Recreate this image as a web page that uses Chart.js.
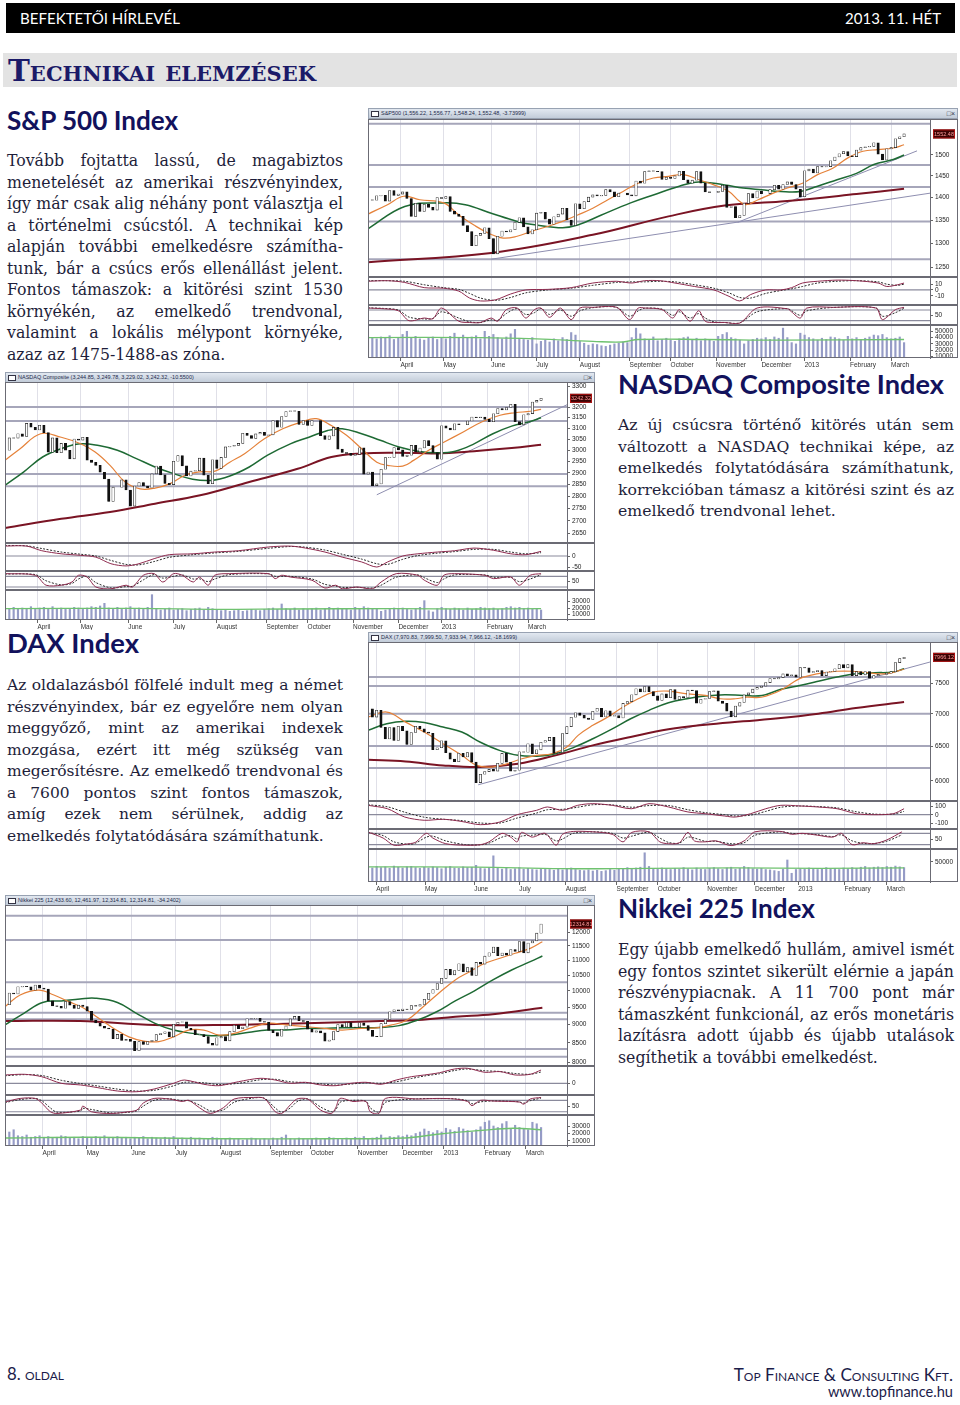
<!DOCTYPE html>
<html lang="hu">
<head>
<meta charset="utf-8">
<title>Technikai elemzések</title>
<script src="https://cdn.jsdelivr.net/npm/chart.js@4.4.1/dist/chart.umd.min.js"></script>
<style>
  html, body { margin: 0; padding: 0; background: #fff; }
  body { width: 960px; height: 1405px; position: relative; overflow: hidden; }
  .hdr { position: absolute; left: 6px; top: 3px; width: 949px; height: 30px; background: #000; }
  .hdr span { position: absolute; top: 7px; color: #fff; font-family: Lato, sans-serif; font-size: 15px; line-height: 16px; white-space: nowrap; }
  .sec { position: absolute; left: 3px; top: 53px; width: 954px; height: 34px; background: #e3e3e3; }
  .sec span { position: absolute; left: 5px; top: 4px; font-family: 'DejaVu Serif', serif; font-weight: bold; font-variant: small-caps; color: #1b1a68; font-size: 26px; line-height: 28px; white-space: nowrap; }
  .h { position: absolute; font-family: Lato, sans-serif; font-weight: 700; color: #12125c; white-space: nowrap; line-height: 1; display: inline-block; }
  .para { position: absolute; width: 336px; font-family: 'DejaVu Serif', serif; color: #1e1e3a; font-size: 15px; }
  .para div { height: 21.5px; line-height: 21.5px; text-align: justify; text-align-last: justify; overflow: visible; }
  .para div.l { text-align: left; text-align-last: left; }
  .foot { position: absolute; font-family: Lato, sans-serif; color: #1c1c4a; white-space: nowrap; line-height: 1; display: inline-block; }
  .chart { position: absolute; width: 590px; background: #fff; }
  .cbar { position: absolute; left: 0; top: 0; width: 588px; height: 9px; border: 1px solid #98a2b2; background: linear-gradient(#e2e8f0, #c2ccd9); font: 5.5px 'Liberation Sans', Arial, sans-serif; color: #1d2a4a; line-height: 9px; white-space: nowrap; overflow: hidden; }
  .cbar i { display: inline-block; width: 6px; height: 4px; border: 1px solid #334; margin: 0 2px 0 2px; vertical-align: middle; background: #fff; }
  .cbar b { position: absolute; right: 2px; top: 0; font-weight: normal; font-size: 7px; color: #334; }
  canvas { position: absolute; left: 0; }
</style>
</head>
<body>

<div class="hdr">
  <span id="hl" style="left:14px">BEFEKTETŐI HÍRLEVÉL</span>
  <span id="hr" style="right:14px">2013. 11. HÉT</span>
</div>
<div class="sec"><span id="sectitle">Technikai elemzések</span></div>

<div class="h" id="h1" style="left:7px;top:107px">S&amp;P 500 Index</div>
<div class="para" id="p1" style="left:7px;top:150px">
  <div>Tovább fojtatta lassú, de magabiztos</div>
  <div>menetelését az amerikai részvényindex,</div>
  <div>így már csak alig néhány pont választja el</div>
  <div>a történelmi csúcstól. A technikai kép</div>
  <div>alapján további emelkedésre számítha-</div>
  <div>tunk, bár a csúcs erős ellenállást jelent.</div>
  <div>Fontos támaszok: a kitörési szint 1530</div>
  <div>környékén, az emelkedő trendvonal,</div>
  <div>valamint a lokális mélypont környéke,</div>
  <div class="l">azaz az 1475-1488-as zóna.</div>
</div>

<div class="h" id="h2" style="left:618px;top:370px">NASDAQ Composite Index</div>
<div class="para" id="p2" style="left:618px;top:414px">
  <div>Az új csúcsra történő kitörés után sem</div>
  <div>változott a NASDAQ technikai képe, az</div>
  <div>emelkedés folytatódására számíthatunk,</div>
  <div>korrekcióban támasz a kitörési szint és az</div>
  <div class="l">emelkedő trendvonal lehet.</div>
</div>

<div class="h" id="h3" style="left:7px;top:629px">DAX Index</div>
<div class="para" id="p3" style="left:7px;top:675px">
  <div>Az oldalazásból fölfelé indult meg a német</div>
  <div>részvényindex, bár ez egyelőre nem olyan</div>
  <div>meggyőző, mint az amerikai indexek</div>
  <div>mozgása, ezért itt még szükség van</div>
  <div>megerősítésre. Az emelkedő trendvonal és</div>
  <div>a 7600 pontos szint fontos támaszok,</div>
  <div>amíg ezek nem sérülnek, addig az</div>
  <div class="l">emelkedés folytatódására számíthatunk.</div>
</div>

<div class="h" id="h4" style="left:618px;top:895px">Nikkei 225 Index</div>
<div class="para" id="p4" style="left:618px;top:939px">
  <div>Egy újabb emelkedő hullám, amivel ismét</div>
  <div>egy fontos szintet sikerült elérnie a japán</div>
  <div>részvénypiacnak. A 11&nbsp;700 pont már</div>
  <div>támaszként funkcionál, az erős monetáris</div>
  <div>lazításra adott újabb és újabb utalások</div>
  <div class="l">segíthetik a további emelkedést.</div>
</div>

<div class="chart" id="spxBox" style="left:368px;top:108px;height:262px">
  <div class="cbar"><i></i>S&amp;P500 (1,556.22, 1,556.77, 1,548.24, 1,552.48, -3.73999)<b>&#9633;&#215;</b></div>
</div>
<div class="chart" id="ndxBox" style="left:5px;top:372px;height:258px">
  <div class="cbar"><i></i>NASDAQ Composite (3,244.85, 3,249.78, 3,229.02, 3,242.32, -10.5500)<b>&#9633;&#215;</b></div>
</div>
<div class="chart" id="daxBox" style="left:368px;top:632px;height:262px">
  <div class="cbar"><i></i>DAX (7,970.83, 7,999.50, 7,933.94, 7,966.12, -18.1699)<b>&#9633;&#215;</b></div>
</div>
<div class="chart" id="nkyBox" style="left:5px;top:895px;height:262px">
  <div class="cbar"><i></i>Nikkei 225 (12,433.60, 12,461.97, 12,314.81, 12,314.81, -34.2402)<b>&#9633;&#215;</b></div>
</div>

<div class="foot" id="f1" style="left:7px;top:1366px;font-size:14px">8. <span style="font-variant:small-caps">oldal</span></div>
<div class="foot" id="f2" style="right:7px;top:1366px;font-size:14px;font-variant:small-caps">Top Finance &amp; Consulting Kft.</div>
<div class="foot" id="f3" style="right:7px;top:1385px;font-size:14px">www.topfinance.hu</div>

<script>
// ---- shared axis data ----
const monthLabels = ['April', 'May', 'June', 'July', 'August', 'September', 'October', 'November', 'December', '2013', 'February', 'March'];
const candleStep = 2; // candle i sits at trading day i * 2

// ---- S&P 500 ----
const spxMonths = [15, 35, 57, 78, 98, 121, 140, 161, 182, 202, 223, 242];
const spxClose = [1395, 1394, 1404, 1405, 1392, 1416, 1405, 1408,
  1413, 1398, 1358, 1387, 1369, 1385, 1378, 1372, 1400, 1398,
  1402, 1369, 1363, 1358, 1338, 1325, 1295, 1317, 1321, 1333, 1310,
  1278, 1315, 1326, 1324, 1329, 1345, 1355, 1335, 1320, 1329,
  1365, 1367, 1352, 1341, 1357, 1363, 1376, 1350, 1338, 1386,
  1375, 1391, 1401, 1406, 1404, 1405, 1418, 1413, 1402, 1410, 1410, 1406,
  1404, 1438, 1433, 1460, 1462, 1461, 1460, 1442, 1447,
  1444, 1450, 1461, 1441, 1433, 1440, 1460, 1433, 1413, 1412, 1412,
  1414, 1428, 1378, 1380, 1355, 1360, 1387, 1409, 1399, 1415,
  1409, 1409, 1418, 1428, 1419, 1430, 1436, 1430, 1419, 1402,
  1462, 1466, 1457, 1472, 1471, 1472, 1486, 1495, 1503, 1508, 1498,
  1496, 1512, 1518, 1520, 1521, 1530, 1502, 1488, 1515,
  1518, 1540, 1545, 1552];
const spxMaFast = [[0, 1363], [9, 1384], [16.5, 1403], [24, 1395], [35, 1388], [42, 1361], [49, 1339], [56, 1321], [62.5, 1311], [69, 1315], [76, 1326], [83, 1336], [90, 1347], [97, 1361], [104, 1376], [111, 1395], [118, 1414], [125, 1433], [132, 1445], [139, 1449], [146, 1453], [153, 1441], [160, 1429], [167, 1414], [172, 1391], [175, 1384], [180.5, 1395], [187.5, 1410], [194, 1422], [201, 1433], [208, 1453], [215, 1468], [222, 1493], [229, 1509], [236, 1513], [243, 1517], [248, 1525]];
const spxMaMid = [[0, 1331], [17, 1380], [35, 1388], [45, 1384], [57, 1365], [69, 1347], [78, 1339], [90, 1333], [97, 1339], [108, 1361], [121.5, 1388], [132, 1406], [144, 1426], [153, 1436], [165, 1429], [173.6, 1422], [182, 1418], [191, 1414], [200, 1414], [208, 1426], [217, 1441], [226, 1456], [234, 1477], [243, 1489], [248, 1500]];
const spxMaSlow = [[0, 1261], [57, 1280], [104, 1318], [139, 1358], [165, 1382], [191, 1391], [226, 1408], [248, 1420]];
const spxLevels = [1578, 1476, 1424, 1347, 1267];
const spxTrends = [[[57, 1267], [260, 1410]], [[171, 1345], [254, 1510]]];
const spxTicks = [1250, 1300, 1350, 1400, 1450, 1500];
const spxMacd = [[0, 15], [9, 16], [17, 13], [26, 4], [35, 3], [42, -2], [47, -14], [52, -19], [59, -17], [66, -7], [73, 0], [83, 1], [94, 4], [104, 12], [115, 15], [122, 12], [128, 16], [135, 16], [142, 12], [151, 6], [160, 0], [167, -11], [172, -19], [177, -8], [184, 0], [191, 0], [196, 4], [201, 12], [208, 15], [217, 17], [226, 16], [236, 12], [240, 6], [245, 9], [248, 12]];
const spxMacdSig = [[0, 16], [9, 16], [17, 15], [26, 9], [35, 4], [42, 1], [47, -6], [52, -14], [59, -18], [66, -13], [73, -5], [83, 0], [94, 3], [104, 8], [115, 13], [122, 14], [128, 14], [135, 15], [142, 14], [151, 9], [160, 3], [167, -5], [172, -13], [177, -14], [184, -6], [191, -1], [196, 2], [201, 6], [208, 12], [217, 15], [226, 16], [236, 14], [240, 10], [245, 8], [248, 10]];
const spxStoch = [[0, 91], [7, 87], [14, 76], [19, 20], [26, 35], [30, 31], [34, 91], [42, 17], [47, 10], [52, 10], [57, 35], [60, 17], [64, 82], [69, 91], [73, 35], [77, 82], [80, 91], [84, 39], [89, 91], [94, 26], [98, 91], [104, 95], [115, 95], [121, 26], [125, 91], [128, 91], [136, 82], [141, 35], [144, 82], [149, 17], [153, 76], [156, 17], [160, 10], [165, 10], [172, 7], [180, 91], [194, 87], [196, 69], [200, 35], [203, 91], [215, 95], [235, 91], [238, 26], [244, 82], [248, 95]];
const spxStochSig = [[0, 92], [7, 89], [14, 80], [19, 40], [26, 30], [30, 33], [34, 70], [42, 35], [47, 14], [52, 10], [57, 25], [60, 22], [64, 60], [69, 88], [73, 55], [77, 65], [80, 88], [84, 55], [89, 80], [94, 45], [98, 75], [104, 93], [115, 95], [121, 45], [125, 75], [128, 90], [136, 85], [141, 50], [144, 70], [149, 35], [153, 60], [156, 35], [160, 14], [165, 10], [172, 8], [180, 70], [194, 88], [196, 76], [200, 50], [203, 75], [215, 94], [235, 92], [238, 45], [244, 65], [248, 90]];
const spxVol = [42, 40, 38, 41, 39, 43, 37, 40,
  45, 50, 40, 42, 38, 36, 39, 41, 37, 40,
  38, 42, 47, 40, 44, 39, 41, 43, 38, 50, 42,
  45, 40, 38, 41, 46, 53, 39, 37, 36, 40,
  30, 34, 36, 33, 38, 35, 40, 37, 48, 44,
  34, 31, 28, 30, 29, 27, 26, 28, 30, 31, 33, 32,
  40, 55, 46, 38, 36, 41, 35, 37, 39,
  36, 34, 38, 40, 41, 37, 39, 35, 38, 36, 34,
  42, 45, 48, 40, 38, 36, 30, 35, 37, 39,
  38, 40, 37, 41, 39, 55, 40, 32, 30, 47,
  44, 40, 38, 36, 39, 37, 41, 40, 38, 36, 42,
  38, 40, 37, 39, 41, 44, 43, 45, 40,
  38, 39, 41, 32];
const spxVolMa = [[0, 40], [52, 40], [78, 38], [104, 34], [118, 33], [125, 37], [156, 37], [191, 36], [248, 37]];

// ---- NASDAQ Composite ----
const ndxMonths = [15, 35, 57, 78, 98, 121, 140, 161, 182, 202, 223, 242];
const ndxClose = [3000, 3056, 3055, 3075, 3063, 3123, 3105, 3092,
  3114, 3080, 2991, 3056, 2989, 3031, 3000, 2962, 3051, 3046,
  3059, 2956, 2946, 2933, 2903, 2874, 2779, 2839, 2839, 2870, 2827,
  2760, 2844, 2859, 2844, 2836, 2896, 2930, 2892, 2855, 2850,
  2951, 2976, 2931, 2887, 2908, 2910, 2965, 2890, 2854, 2958,
  2920, 2968, 3015, 3018, 3022, 3031, 3077, 3067, 3054, 3074, 3081, 3067,
  3070, 3136, 3105, 3155, 3179, 3182, 3180, 3118, 3136,
  3113, 3136, 3136, 3066, 3049, 3065, 3104, 3005, 2990, 2986, 2977,
  2982, 3011, 2895, 2904, 2846, 2853, 2916, 2967, 2968, 3012,
  3002, 2973, 2978, 3022, 2993, 3010, 3044, 3021, 2990, 2960,
  3112, 3101, 3092, 3121, 3117, 3117, 3134, 3153, 3150, 3153, 3142,
  3131, 3168, 3193, 3186, 3198, 3213, 3131, 3116, 3163,
  3169, 3224, 3232, 3242];
const ndxMaFast = [[0, 2955], [7, 3007], [16.5, 3075], [26, 3059], [35, 3029], [41.7, 2992], [48.6, 2933], [55.6, 2861], [62.5, 2832], [69.4, 2835], [76.4, 2854], [83.3, 2890], [90.3, 2905], [97.2, 2908], [104, 2947], [111, 2986], [120, 3052], [128.5, 3098], [137, 3129], [144, 3145], [151, 3113], [158, 3068], [165, 3007], [172, 2947], [177, 2933], [184, 2930], [189, 2955], [196, 3000], [203, 3036], [212, 3083], [220.5, 3129], [229, 3161], [236, 3173], [243, 3180], [248, 3189]];
const ndxMaMid = [[0, 2847], [8.7, 2905], [17.4, 2970], [26, 3007], [34.7, 3029], [43.4, 3021], [52, 3000], [60.8, 2963], [69.4, 2926], [78, 2897], [86.8, 2873], [95.5, 2868], [104, 2887], [113, 2926], [121.5, 2978], [132, 3029], [140.6, 3059], [149.3, 3090], [156, 3098], [165, 3075], [173.6, 3045], [182.3, 3015], [191, 2996], [199.7, 2989], [208.3, 2996], [217, 3029], [225.7, 3075], [234.4, 3110], [243, 3132], [248, 3149]];
const ndxMaSlow = [[0, 2671], [26, 2708], [48.6, 2736], [69.4, 2770], [90.3, 2805], [113, 2861], [135.4, 2918], [151, 2970], [165, 2986], [182.3, 2989], [199.7, 2986], [217, 2996], [234.4, 3010], [248, 3025]];
const ndxLevels = [3200, 3134, 2895, 2843];
const ndxTrends = [[[172, 2807], [260, 3211]]];
const ndxTicks = [2650, 2700, 2750, 2800, 2850, 2900, 2950, 3000, 3050, 3100, 3150, 3200, 3300];
const ndxMacd = [[0, 45], [10, 45], [17, 24], [26, 10], [35, 3], [42, -5], [49, -35], [56, -45], [62, -35], [69, -12], [76, 6], [87, 10], [97, 18], [108, 24], [122, 41], [132, 45], [139, 36], [148, 18], [156, -5], [165, -27], [172, -50], [177, -27], [184, 0], [191, 10], [200, 18], [208, 24], [217, 36], [226, 26], [234, 10], [241, 6], [248, 21]];
const ndxMacdSig = [[0, 48], [10, 46], [17, 34], [26, 18], [35, 8], [42, 0], [49, -20], [56, -38], [62, -40], [69, -25], [76, -6], [87, 6], [97, 14], [108, 21], [122, 35], [132, 43], [139, 40], [148, 27], [156, 8], [165, -14], [172, -35], [177, -38], [184, -15], [191, 2], [200, 13], [208, 20], [217, 30], [226, 30], [234, 18], [241, 10], [248, 15]];
const ndxStoch = [[0, 95], [14, 86], [19, 30], [26, 30], [31, 48], [34, 86], [38, 76], [42, 20], [49, 10], [56, 30], [59, 20], [64, 86], [69, 95], [73, 48], [78, 95], [82, 86], [87, 48], [90, 76], [94, 30], [97, 86], [104, 95], [122, 95], [125, 67], [128, 86], [132, 76], [142, 58], [148, 14], [153, 30], [156, 10], [163, 20], [170, 10], [174, 48], [181, 95], [191, 86], [194, 58], [200, 30], [203, 86], [208, 95], [222, 86], [226, 67], [234, 76], [238, 30], [243, 86], [248, 95]];
const ndxStochSig = [[0, 93], [14, 90], [19, 55], [26, 32], [31, 40], [34, 65], [38, 80], [42, 45], [49, 15], [56, 22], [59, 24], [64, 60], [69, 90], [73, 70], [78, 80], [82, 88], [87, 65], [90, 66], [94, 50], [97, 65], [104, 90], [122, 94], [125, 80], [128, 80], [132, 80], [142, 65], [148, 35], [153, 25], [156, 18], [163, 18], [170, 14], [174, 30], [181, 75], [191, 88], [194, 72], [200, 45], [203, 65], [208, 88], [222, 88], [226, 75], [234, 74], [238, 50], [243, 65], [248, 90]];
const ndxVol = [20, 19, 21, 18, 20, 19, 22, 18,
  20, 21, 19, 22, 18, 20, 19, 18, 21, 20,
  19, 20, 22, 21, 23, 27, 20, 19, 21, 18, 20,
  22, 19, 20, 18, 21, 40, 19, 17, 18, 20,
  17, 18, 19, 16, 18, 19, 20, 17, 21, 19,
  17, 16, 18, 15, 16, 17, 15, 16, 18, 17, 16, 18,
  19, 20, 18, 26, 19, 18, 20, 17, 19,
  18, 19, 20, 17, 19, 21, 18, 20, 19, 18, 17,
  21, 19, 22, 20, 18, 19, 15, 17, 18, 20,
  19, 20, 18, 17, 19, 21, 31, 16, 14, 19,
  21, 19, 18, 20, 19, 17, 20, 18, 19, 21, 20,
  19, 20, 18, 19, 21, 22, 20, 21, 19,
  20, 18, 19, 17];
const ndxVolMa = [[0, 19], [60, 19.5], [100, 18], [130, 18.5], [180, 19], [220, 18.5], [248, 19]];

// ---- DAX ----
const daxMonths = [3.8, 26.4, 49.1, 70, 91.5, 115, 134, 157, 179, 199, 220.5, 240];
const daxClose = [7078, 6947,
  7056, 6784, 6606, 6783, 6583, 6801, 6732, 6523, 6705, 6801, 6761, 6710,
  6694, 6445, 6475, 6579, 6401, 6308, 6272, 6393, 6340, 6402, 6264,
  5978, 6093, 6131, 6162, 6138, 6248, 6392, 6263, 6136, 6150, 6416,
  6409, 6535, 6387, 6444, 6557, 6582, 6630, 6390, 6405, 6689,
  6796, 6944, 7015, 6974, 6929, 6909, 7040, 7089, 6949, 7047, 6960, 6970,
  6933, 7167, 7197, 7310, 7412, 7357, 7451, 7364, 7293, 7216,
  7326, 7261, 7397, 7234, 7281, 7262, 7389, 7380, 7170, 7237, 7249,
  7364, 7377, 7205, 7168, 7043, 6950, 7124, 7182, 7309, 7343, 7405,
  7435, 7457, 7518, 7589, 7581, 7605, 7669, 7636, 7655, 7612,
  7779, 7776, 7695, 7708, 7729, 7639, 7702, 7712, 7760, 7833, 7776,
  7833, 7639, 7708, 7652, 7711, 7593, 7638, 7661, 7661, 7680,
  7708, 7871, 7942, 7966];
const daxMaFast = [[0, 6947], [8.7, 7027], [17.4, 6867], [26, 6712], [34.7, 6535], [43.4, 6363], [50.3, 6218], [57.3, 6195], [64.2, 6241], [71.2, 6314], [78, 6363], [85, 6386], [92, 6485], [97.2, 6661], [104, 6816], [111, 6947], [118, 7108], [125, 7245], [132, 7356], [139, 7372], [147.6, 7325], [156, 7300], [163, 7245], [170, 7245], [175, 7270], [182, 7270], [191, 7387], [199.7, 7586], [208.3, 7673], [217, 7716], [224, 7716], [231, 7690], [239.6, 7673], [248, 7751]];
const daxMaMid = [[0, 6738], [8.7, 6841], [17.4, 6880], [26, 6860], [34.7, 6790], [43.4, 6712], [52, 6557], [60.8, 6436], [69.4, 6363], [78, 6350], [86.8, 6386], [95.5, 6485], [104, 6610], [113, 6762], [121.5, 6920], [130, 7055], [139, 7179], [147.6, 7245], [156, 7290], [165, 7312], [173.6, 7300], [182.3, 7300], [191, 7403], [199.7, 7469], [208.3, 7540], [217, 7615], [225.7, 7673], [234.4, 7690], [243, 7702], [248, 7761]];
const daxMaSlow = [[0, 6300], [17.4, 6275], [34.7, 6218], [52, 6195], [69.4, 6241], [86.8, 6363], [104, 6510], [121.5, 6637], [139, 6754], [156, 6826], [173.6, 6879], [191, 6931], [208.3, 7000], [225.7, 7092], [248, 7190]];
const daxLevels = [7615, 7460, 7000, 6500, 6180];
const daxTrends = [[[51, 5948], [260, 7881]]];
const daxTicks = [6000, 6500, 7000, 7500];
const daxMacd = [[0, 113], [9, 72], [17, -28], [26, -67], [35, -55], [43, -80], [52, -120], [61, -88], [69, 0], [78, 53], [83, 93], [90, 53], [97, 113], [104, 133], [113, 113], [122, 72], [130, 133], [139, 93], [148, 33], [156, 12], [165, -16], [170, -28], [177, 12], [184, 72], [191, 113], [200, 105], [208, 93], [217, 72], [226, 12], [234, 0], [243, 12], [248, 72]];
const daxMacdSig = [[0, 120], [9, 95], [17, 30], [26, -30], [35, -55], [43, -70], [52, -100], [61, -100], [69, -40], [78, 20], [83, 60], [90, 65], [97, 90], [104, 120], [113, 118], [122, 90], [130, 110], [139, 110], [148, 60], [156, 25], [165, 0], [170, -15], [177, -5], [184, 40], [191, 90], [200, 105], [208, 98], [217, 82], [226, 35], [234, 8], [243, 8], [248, 40]];
const daxStoch = [[0, 87], [7, 55], [12, 17], [19, 25], [22, 33], [27, 80], [30, 55], [36, 25], [45, 17], [52, 20], [56, 35], [62, 80], [66, 60], [69, 35], [71, 85], [76, 60], [82, 80], [87, 17], [90, 75], [95, 90], [104, 88], [113, 75], [118, 35], [122, 85], [130, 88], [135, 35], [139, 25], [144, 30], [148, 85], [151, 40], [156, 35], [161, 40], [168, 15], [174, 40], [179, 88], [191, 90], [196, 75], [201, 80], [208, 70], [215, 60], [219, 80], [224, 20], [229, 30], [234, 25], [240, 45], [247, 88]];
const daxStochSig = [[0, 85], [7, 68], [12, 35], [19, 22], [22, 28], [27, 60], [30, 65], [36, 40], [45, 20], [52, 19], [56, 28], [62, 60], [66, 68], [69, 50], [71, 65], [76, 70], [82, 74], [87, 40], [90, 50], [95, 80], [104, 88], [113, 80], [118, 55], [122, 65], [130, 86], [135, 55], [139, 32], [144, 28], [148, 60], [151, 55], [156, 38], [161, 38], [168, 25], [174, 30], [179, 70], [191, 88], [196, 80], [201, 78], [208, 73], [215, 63], [219, 72], [224, 40], [229, 27], [234, 26], [240, 38], [247, 72]];
const daxVol = [36, 34, 38, 35, 37, 33, 39, 36, 34, 37,
  38, 35, 33, 36, 34, 37, 35, 32, 36, 38,
  34, 33, 37, 35, 36, 41, 34, 32, 35, 66,
  33, 31, 34, 30, 32, 35, 31, 33, 30, 29,
  31, 33, 30, 28, 32, 29, 31, 34, 30, 28,
  27, 29, 26, 28, 25, 27, 30, 28, 31, 33,
  35, 32, 34, 36, 74, 38, 33, 31, 34, 32,
  30, 33, 31, 35, 32, 29, 34, 31, 30, 33,
  35, 32, 30, 34, 36, 31, 33, 38, 35, 32,
  31, 33, 30, 29, 27, 25, 31, 55, 20, 30,
  32, 31, 34, 33, 30, 32, 35, 31, 33, 30,
  34, 32, 35, 33, 36, 38, 34, 36, 37, 35,
  38, 36, 39, 37, 35];
const daxVolMa = [[0, 37], [50, 36], [90, 32], [130, 33], [170, 34], [210, 33], [248, 34]];

// ---- Nikkei 225 ----
const nkyMonths = [17.4, 37.8, 58.5, 79, 99.8, 123, 141.5, 163.2, 184, 203, 222, 241];
const nkyClose = [9576, 9929, 9899, 10123, 10141, 10127, 10018, 10182, 10083,
  10050, 9688, 9538, 9524, 9471, 9667, 9561, 9466, 9561, 9520,
  9380, 9119, 9045, 8953, 8900, 8876, 8611, 8729, 8563, 8593, 8542,
  8295, 8533, 8459, 8536, 8568, 8722, 8752, 8798, 8663, 9006,
  9066, 9079, 8896, 8851, 8724, 8726, 8669, 8488, 8443, 8635,
  8666, 8555, 8803, 8978, 8885, 8929, 9162, 9157, 9178, 9085, 9070, 8840,
  8775, 8680, 8869, 8959, 9160, 9232, 9110, 9091, 8870,
  8786, 8824, 8769, 8546, 8577, 8806, 9002, 8932, 9055, 8929, 8928,
  9051, 8974, 8837, 8676, 8664, 9024, 9142, 9366, 9423, 9400, 9446,
  9433, 9545, 9533, 9581, 9737, 9923, 10039, 10230, 10395,
  10688, 10508, 10652, 10879, 10609, 10747, 10487, 10926, 10866, 11138,
  11260, 11463, 11153, 11251, 11173, 11372, 11309, 11662, 11254,
  11606, 11683, 11968, 12315];
const nkyMaFast = [[0, 9516], [7, 9869], [15.6, 10020], [22.6, 9869], [29.5, 9666], [36.5, 9470], [43.4, 9176], [50.3, 8892], [57.3, 8662], [64.2, 8549], [71.2, 8535], [78, 8662], [85, 8847], [92, 8847], [99, 8710], [106, 8756], [113, 8892], [121.5, 9034], [130, 8990], [139, 8946], [147.6, 8892], [156, 8847], [165, 8892], [172, 8910], [179, 8990], [186, 9127], [192.7, 9470], [199.7, 9869], [208.3, 10344], [215, 10611], [222, 10894], [229, 11066], [236, 11240], [243, 11415], [248.6, 11653]];
const nkyMaMid = [[0, 8990], [8.7, 9322], [17.4, 9643], [26, 9688], [34.7, 9746], [41.7, 9770], [52, 9643], [60.8, 9322], [69.4, 9034], [78, 8847], [86.8, 8756], [95.5, 8692], [104, 8710], [113, 8788], [121.5, 8847], [130, 8847], [139, 8892], [147.6, 8892], [156, 8910], [165, 8910], [173.6, 8920], [182.3, 8970], [191, 9127], [199.7, 9367], [208.3, 9688], [217, 9991], [225.7, 10344], [234.4, 10670], [243, 10949], [248.6, 11146]];
const nkyMaSlow = [[0, 9101], [34.7, 9101], [69.4, 8990], [104, 8990], [139, 9034], [173.6, 9101], [191, 9127], [208.3, 9222], [225.7, 9292], [248.6, 9485]];
const nkyLevels = [12640, 11715, 10267, 9338, 9148, 8339, 8141];
const nkyTrends = [];
const nkyTicks = [8000, 8500, 9000, 9500, 10000, 10500, 11000, 11500, 12000];
const nkyMacd = [[0, 331], [9, 359], [17, 263], [26, 0], [35, -67], [43, -175], [52, -307], [61, -335], [69, -227], [78, 0], [83, 131], [92, -40], [99, -95], [108, 64], [118, 199], [125, 131], [132, 0], [139, 40], [146, -67], [153, -95], [160, 0], [167, 40], [174, -40], [181, 131], [188, 263], [194, 331], [201, 422], [208, 570], [214, 598], [222, 438], [229, 466], [236, 331], [243, 359], [248, 529]];
const nkyMacdSig = [[0, 300], [9, 345], [17, 310], [26, 120], [35, -10], [43, -110], [52, -230], [61, -310], [69, -280], [78, -100], [83, 40], [92, 20], [99, -50], [108, 0], [118, 140], [125, 160], [132, 60], [139, 30], [146, -20], [153, -70], [160, -30], [167, 20], [174, 0], [181, 60], [188, 190], [194, 290], [201, 380], [208, 510], [214, 570], [222, 500], [229, 470], [236, 390], [243, 360], [248, 450]];
const nkyStoch = [[0, 71], [7, 90], [14, 90], [17, 66], [21, 20], [24, 11], [35, 29], [36, 50], [40, 20], [49, 11], [57, 20], [61, 29], [64, 66], [69, 90], [76, 87], [82, 74], [85, 80], [90, 41], [95, 11], [101, 41], [106, 87], [115, 95], [120, 90], [125, 20], [128, 11], [132, 56], [135, 87], [139, 90], [141, 80], [146, 29], [151, 11], [153, 41], [155, 90], [161, 74], [167, 74], [169, 20], [173, 11], [176, 90], [191, 87], [200, 90], [208, 87], [214, 74], [216, 52], [220, 80], [226, 76], [233, 74], [238, 71], [240, 60], [243, 87], [248, 95]];
const nkyStochSig = [[0, 68], [7, 84], [14, 90], [17, 78], [21, 40], [24, 18], [35, 24], [36, 38], [40, 32], [49, 14], [57, 17], [61, 25], [64, 50], [69, 80], [76, 88], [82, 78], [85, 78], [90, 55], [95, 25], [101, 30], [106, 70], [115, 92], [120, 91], [125, 40], [128, 18], [132, 40], [135, 72], [139, 88], [141, 84], [146, 45], [151, 20], [153, 30], [155, 70], [161, 80], [167, 75], [169, 40], [173, 18], [176, 70], [191, 88], [200, 89], [208, 88], [214, 78], [216, 62], [220, 72], [226, 77], [233, 75], [238, 72], [240, 65], [243, 78], [248, 92]];
const nkyVol = [18, 22, 25, 17, 16, 18, 15, 16, 17, 15,
  16, 14, 15, 17, 16, 14, 15, 13, 16, 15,
  14, 16, 15, 17, 14, 15, 16, 14, 15, 13,
  15, 14, 16, 13, 15, 14, 13, 15, 14, 16,
  13, 14, 12, 15, 13, 14, 12, 13, 15, 14,
  12, 13, 14, 12, 13, 11, 12, 14, 13, 12,
  13, 12, 14, 13, 15, 18, 13, 12, 14, 13,
  12, 13, 14, 12, 13, 15, 14, 13, 12, 14,
  13, 15, 14, 16, 13, 14, 15, 18, 14, 16,
  15, 17, 16, 18, 17, 20, 22, 26, 23, 21,
  24, 22, 27, 25, 23, 28, 26, 24, 22, 25,
  29, 35, 37, 30, 28, 33, 36, 26, 31, 28,
  27, 25, 35, 33, 28];
const nkyVolMa = [[0, 14], [40, 15], [100, 13], [150, 13], [185, 14], [200, 19], [220, 24], [235, 27], [248, 25]];

// ---- chart plumbing ----
Chart.defaults.font.family = "'Liberation Sans', Arial, sans-serif";
Chart.defaults.color = '#222';

const framePlugin = {
  id: 'frame',
  afterDraw(chart) {
    const a = chart.chartArea, ctx = chart.ctx;
    ctx.save();
    ctx.strokeStyle = '#6b6b74';
    ctx.lineWidth = 1;
    ctx.strokeRect(0.5, a.top + 0.5, chart.width - 1, a.bottom - a.top - 1);
    ctx.restore();
  }
};
const lastBoxPlugin = {
  id: 'lastBox',
  afterDraw(chart, args, opts) {
    if (!opts || !opts.text) return;
    const y = chart.scales.y.getPixelForValue(opts.value);
    const x0 = chart.chartArea.right + 3;
    const w = chart.width - x0 - 3;
    const ctx = chart.ctx;
    ctx.save();
    ctx.fillStyle = '#3a0303';
    ctx.fillRect(x0, y - 4.5, w, 9);
    ctx.strokeStyle = '#b01212';
    ctx.strokeRect(x0 + 0.5, y - 4, w - 1, 8);
    ctx.fillStyle = '#ff9a9a';
    ctx.font = "5.5px 'Liberation Sans', Arial";
    ctx.textAlign = 'center';
    ctx.textBaseline = 'middle';
    ctx.fillText(opts.text, x0 + w / 2, y + 0.5);
    ctx.restore();
  }
};
Chart.register(framePlugin, lastBoxPlugin);

function lineDs(points, color, width, order, tension, dash) {
  return {
    type: 'line',
    data: points.map(p => ({ x: p[0], y: p[1] })),
    borderColor: color,
    borderWidth: width,
    borderDash: dash || [],
    pointRadius: 0,
    fill: false,
    tension: tension || 0,
    order: order
  };
}

// no label padding: the plot area should fill the whole panel
function noPad(s) {
  s.paddingTop = 0;
  s.paddingBottom = 0;
  s.paddingLeft = 0;
  s.paddingRight = 0;
}

function xAxis(months, withLabels, axisH) {
  return {
    type: 'linear', min: 0, max: 260, offset: false,
    afterBuildTicks: s => { s.ticks = months.map(v => ({ value: v })); },
    afterFit: s => { s.height = withLabels ? axisH : 0; noPad(s); },
    grid: { color: '#e0e0e8', lineWidth: 1, drawTicks: withLabels, tickLength: 3, tickColor: '#666', offset: false },
    border: { display: false },
    ticks: {
      display: withLabels, autoSkip: false, maxRotation: 0, align: 'start', padding: 0,
      font: { size: 6.5 }, color: '#333',
      callback: (v, i) => monthLabels[i]
    }
  };
}

function yAxis(range, ticks, log, fmt) {
  return {
    type: log ? 'logarithmic' : 'linear', position: 'right', min: range[0], max: range[1],
    afterBuildTicks: s => { s.ticks = ticks.map(v => ({ value: v })); },
    afterFit: s => { s.width = 28; noPad(s); },
    grid: { drawOnChartArea: false, drawTicks: true, tickLength: 3, color: '#666' },
    border: { display: true, color: '#6b6b74' },
    ticks: {
      autoSkip: false, padding: 2, font: { size: 6.5 }, color: '#222',
      callback: v => fmt ? fmt(v) : String(v)
    }
  };
}

function chartOptions(x, y, plugins) {
  return {
    responsive: false, animation: false, devicePixelRatio: 1, events: [],
    layout: { padding: 0 },
    plugins: Object.assign({ legend: { display: false }, tooltip: { enabled: false } }, plugins || {}),
    scales: { x: x, y: y }
  };
}

function addCanvas(box, slot) {
  const c = document.createElement('canvas');
  c.width = 590;
  c.height = slot[1];
  c.style.top = slot[0] + 'px';
  c.style.width = '590px';
  c.style.height = slot[1] + 'px';
  box.appendChild(c);
  return c;
}

function drawIndex(boxId, d, lay) {
  const box = document.getElementById(boxId);
  const cs = d.close;

  // price panel: candles drawn close-to-close, with support levels, trend lines and moving averages
  const candles = cs.map((c, i) => ({ x: i * candleStep, y: [i ? cs[i - 1] : c, c] }));
  const fills = cs.map((c, i) => (i && c < cs[i - 1]) ? '#111' : '#fff');
  const mainSets = [];
  d.levels.forEach(v => mainSets.push(lineDs([[0, v], [260, v]], '#a6a6ba', 2, 9)));
  d.trends.forEach(t => mainSets.push(lineDs(t, '#8e8eb0', 1, 8)));
  mainSets.push(lineDs(d.maSlow, '#7a1424', 2, 7, 0.4));
  mainSets.push(lineDs(d.maMid, '#1e6a34', 1.5, 6, 0.4));
  mainSets.push(lineDs(d.maFast, '#e5823a', 1.2, 5, 0.4));
  mainSets.push({
    type: 'bar', data: candles, backgroundColor: fills, borderColor: '#111',
    borderWidth: 0.6, borderSkipped: false, barThickness: 2.4, order: 1
  });
  new Chart(addCanvas(box, lay.main), {
    type: 'bar',
    data: { datasets: mainSets },
    options: chartOptions(xAxis(d.months, false), yAxis(d.yRange, d.yTicks, true),
      { lastBox: { value: cs[cs.length - 1], text: d.lastText } })
  });

  // MACD panel
  new Chart(addCanvas(box, lay.macd), {
    type: 'line',
    data: { datasets: [
      lineDs([[0, 0], [260, 0]], '#8a8a9c', 1.2, 3),
      lineDs(d.macdSig, '#2a2a2a', 1, 2, 0.3, [2, 1.5]),
      lineDs(d.macd, '#8e2a4e', 1, 1, 0.3)
    ] },
    options: chartOptions(xAxis(d.months, false), yAxis(d.macdRange, d.macdTicks, false))
  });

  // stochastic panel
  new Chart(addCanvas(box, lay.stoch), {
    type: 'line',
    data: { datasets: [
      lineDs([[0, 80], [260, 80]], '#8a8a9c', 1.2, 4),
      lineDs([[0, 20], [260, 20]], '#8a8a9c', 1.2, 4),
      lineDs(d.stochSig, '#2a2a2a', 1, 2, 0.3, [2, 1.5]),
      lineDs(d.stoch, '#8e2a4e', 1, 1, 0.3)
    ] },
    options: chartOptions(xAxis(d.months, false), yAxis(d.stochRange, [50], false))
  });

  // volume panel with month labels
  new Chart(addCanvas(box, lay.vol), {
    type: 'bar',
    data: { datasets: [
      lineDs(d.volMa, '#6fc26f', 1.3, 1, 0.4),
      { type: 'bar', data: d.vol.map((v, i) => ({ x: i * candleStep, y: v })), backgroundColor: '#959bc6', barThickness: 1.5, order: 2 }
    ] },
    options: chartOptions(xAxis(d.months, true, lay.volAxis), yAxis(d.volRange, d.volTicks, false, v => String(v * 1000)))
  });
}

drawIndex('spxBox', {
  close: spxClose, months: spxMonths, levels: spxLevels, trends: spxTrends,
  maFast: spxMaFast, maMid: spxMaMid, maSlow: spxMaSlow, yRange: [1231, 1590], yTicks: spxTicks, lastText: '1552.48',
  macd: spxMacd, macdSig: spxMacdSig, macdRange: [-26, 22.4], macdTicks: [-10, 0, 10],
  stoch: spxStoch, stochSig: spxStochSig, stochRange: [-4, 108],
  vol: spxVol, volMa: spxVolMa, volRange: [7.6, 60], volTicks: [10, 20, 30, 40, 50]
}, { main: [11, 158], macd: [169, 28], stoch: [197, 20], vol: [217, 44], volAxis: 11 });

drawIndex('ndxBox', {
  close: ndxClose, months: ndxMonths, levels: ndxLevels, trends: ndxTrends,
  maFast: ndxMaFast, maMid: ndxMaMid, maSlow: ndxMaSlow, yRange: [2612, 3322], yTicks: ndxTicks, lastText: '3242.32',
  macd: ndxMacd, macdSig: ndxMacdSig, macdRange: [-68, 59], macdTicks: [-50, 0],
  stoch: ndxStoch, stochSig: ndxStochSig, stochRange: [3, 110],
  vol: ndxVol, volMa: ndxVolMa, volRange: [2, 47], volTicks: [10, 20, 30]
}, { main: [10, 161], macd: [171, 28], stoch: [199, 19], vol: [218, 40], volAxis: 10 });

drawIndex('daxBox', {
  close: daxClose, months: daxMonths, levels: daxLevels, trends: daxTrends,
  maFast: daxMaFast, maMid: daxMaMid, maSlow: daxMaSlow, yRange: [5731, 8251], yTicks: daxTicks, lastText: '7966.12',
  macd: daxMacd, macdSig: daxMacdSig, macdRange: [-172, 165], macdTicks: [-100, 0, 100],
  stoch: daxStoch, stochSig: daxStochSig, stochRange: [-3, 103],
  vol: daxVol, volMa: daxVolMa, volRange: [-3, 84], volTicks: [50]
}, { main: [10, 159], macd: [169, 28], stoch: [197, 20], vol: [217, 44], volAxis: 11 });

drawIndex('nkyBox', {
  close: nkyClose, months: nkyMonths, levels: nkyLevels, trends: nkyTrends,
  maFast: nkyMaFast, maMid: nkyMaMid, maSlow: nkyMaSlow, yRange: [7909, 13066], yTicks: nkyTicks, lastText: '12314.81',
  macd: nkyMacd, macdSig: nkyMacdSig, macdRange: [-466, 689], macdTicks: [0],
  stoch: nkyStoch, stochSig: nkyStochSig, stochRange: [3, 108],
  vol: nkyVol, volMa: nkyVolMa, volRange: [3.3, 44.7], volTicks: [10, 20, 30]
}, { main: [10, 161], macd: [171, 29], stoch: [200, 20], vol: [220, 42], volAxis: 11 });

// ---- text fitting ----
function fitWidth(id, target) {
  const el = document.getElementById(id);
  const fs = parseFloat(getComputedStyle(el).fontSize);
  const w = el.getBoundingClientRect().width;
  if (w > 0) el.style.fontSize = (fs * target / w) + 'px';
}
function fitPara(id) {
  const el = document.getElementById(id);
  const probe = document.createElement('span');
  probe.style.cssText = 'position:absolute;visibility:hidden;white-space:nowrap;font-size:20px;left:0;top:0';
  el.appendChild(probe);
  let max = 0;
  [...el.children].forEach(l => {
    if (l === probe) return;
    probe.textContent = l.textContent;
    max = Math.max(max, probe.getBoundingClientRect().width);
  });
  el.removeChild(probe);
  el.style.fontSize = Math.min(16.5, 20 * 334 / max) + 'px';
}
function fitAll() {
  fitWidth('hl', 160);
  fitWidth('hr', 96);
  fitWidth('sectitle', 304);
  fitWidth('h1', 171);
  fitWidth('h2', 326);
  fitWidth('h3', 132);
  fitWidth('h4', 197);
  fitWidth('f1', 55);
  fitWidth('f2', 213);
  fitWidth('f3', 125);
  ['p1', 'p2', 'p3', 'p4'].forEach(fitPara);
}
fitAll();
if (document.fonts && document.fonts.ready) document.fonts.ready.then(fitAll);
</script>
</body>
</html>
